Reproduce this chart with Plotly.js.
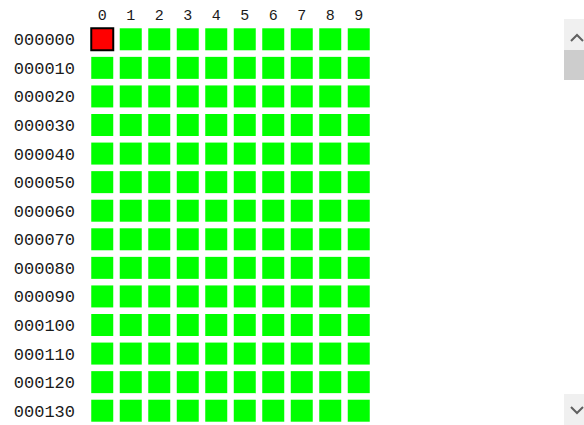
<!DOCTYPE html>
<html><head><meta charset="utf-8">
<script src="https://cdn.plot.ly/plotly-3.0.1.min.js"></script>
<style>html,body{margin:0;padding:0;background:#fff;}</style>
</head><body><div id="chart" style="width:584px;height:425px;"></div>
<script>
// Column labels (last digit of address)
const columns = [0,1,2,3,4,5,6,7,8,9];
// Row labels (base address)
const rows = ['000000','000010','000020','000030','000040','000050','000060',
              '000070','000080','000090','000100','000110','000120','000130'];
// Cell status per row: 1 = ok (green), 0 = error (red)
const status = [
  [0,1,1,1,1,1,1,1,1,1],
  [1,1,1,1,1,1,1,1,1,1],
  [1,1,1,1,1,1,1,1,1,1],
  [1,1,1,1,1,1,1,1,1,1],
  [1,1,1,1,1,1,1,1,1,1],
  [1,1,1,1,1,1,1,1,1,1],
  [1,1,1,1,1,1,1,1,1,1],
  [1,1,1,1,1,1,1,1,1,1],
  [1,1,1,1,1,1,1,1,1,1],
  [1,1,1,1,1,1,1,1,1,1],
  [1,1,1,1,1,1,1,1,1,1],
  [1,1,1,1,1,1,1,1,1,1],
  [1,1,1,1,1,1,1,1,1,1],
  [1,1,1,1,1,1,1,1,1,1]
];

const okX=[], okY=[], errX=[], errY=[];
status.forEach((r,ri)=>r.forEach((v,ci)=>{
  if(v){okX.push(columns[ci]);okY.push(rows[ri]);}
  else {errX.push(columns[ci]);errY.push(rows[ri]);}
}));

const W=584,H=425,ML=88,MR=211,MT=25,MB=0;
const PW=W-ML-MR, PH=H-MT-MB;
const px=x=>(x-ML)/PW, py=y=>(H-MB-y)/PH;
const rect=(x0,y0,x1,y1,fill)=>({type:'rect',xref:'paper',yref:'paper',
  x0:px(x0),x1:px(x1),y0:py(y1),y1:py(y0),fillcolor:fill,line:{width:0},layer:'above'});
const chev=(pts)=>({type:'path',xref:'paper',yref:'paper',
  path:'M'+pts.map(p=>px(p[0])+','+py(p[1])).join(' L'),
  line:{color:'#606060',width:2},layer:'above'});

const font={family:'"Liberation Mono", monospace',size:17,color:'#1a1a1a'};

const traces=[
  {type:'scatter',mode:'markers',x:okX,y:okY,hoverinfo:'skip',
   marker:{symbol:'square',size:22,color:'#00ff00',line:{width:0}}},
  {type:'scatter',mode:'markers',x:errX,y:errY,hoverinfo:'skip',
   marker:{symbol:'square',size:22,color:'#ff0000',line:{width:2,color:'#000'}}}
];

const layout={
  width:W,height:H,margin:{l:ML,r:MR,t:MT,b:MB,pad:0},
  paper_bgcolor:'#fff',plot_bgcolor:'#fff',showlegend:false,font:font,
  xaxis:{side:'top',range:[-0.5,9.5],tickvals:columns,ticktext:columns.map(String),
    showgrid:false,zeroline:false,showline:false,ticks:'',fixedrange:true,ticklabelstandoff:1,
    tickfont:{size:15}},
  yaxis:{type:'category',categoryorder:'array',categoryarray:rows,range:[13.5,-0.5],
    showgrid:false,zeroline:false,showline:false,ticks:'',fixedrange:true,ticklabelstandoff:12},
  shapes:[
    rect(564,19,584,50,'#f0f0f0'),
    rect(564,50,584,80,'#cdcdcd'),
    rect(564,394,584,425,'#f0f0f0'),
    chev([[571,41],[577,35],[583,41]]),
    chev([[571,407],[577,413],[583,407]])
  ]
};
Plotly.newPlot('chart',traces,layout,{displayModeBar:false,staticPlot:true});
</script></body></html>
